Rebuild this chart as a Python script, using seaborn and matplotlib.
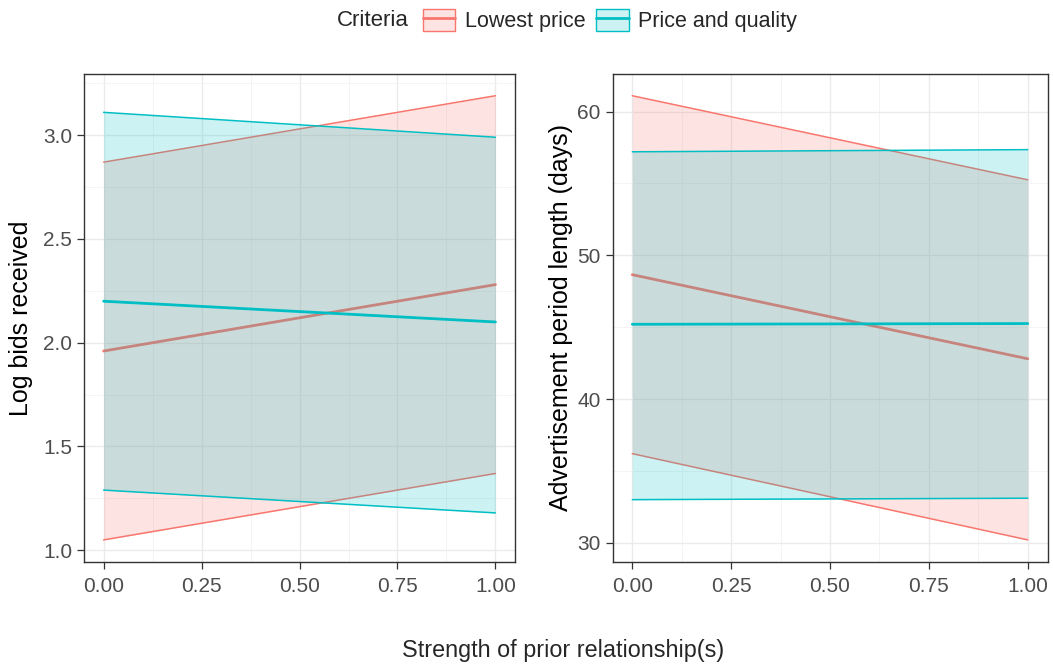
import matplotlib
matplotlib.use("Agg")
import matplotlib.pyplot as plt
import seaborn as sns
import pandas as pd
from matplotlib.patches import Patch
from matplotlib.lines import Line2D
from matplotlib.ticker import MultipleLocator, FormatStrFormatter

# values
strength = [0.0, 1.0]
criteria = ["Lowest price", "Price and quality"]

bids_fit = {"Lowest price": [1.96, 2.28], "Price and quality": [2.20, 2.10]}
bids_low = {"Lowest price": [1.05, 1.37], "Price and quality": [1.29, 1.18]}
bids_high = {"Lowest price": [2.87, 3.19], "Price and quality": [3.11, 2.99]}

adv_fit = {"Lowest price": [48.65, 42.8], "Price and quality": [45.2, 45.25]}
adv_low = {"Lowest price": [36.2, 30.2], "Price and quality": [33.0, 33.1]}
adv_high = {"Lowest price": [61.1, 55.25], "Price and quality": [57.2, 57.35]}

colors = {"Lowest price": "#F8766D", "Price and quality": "#00BFC4"}


def make_df(fit, low, high):
    rows = []
    for c in criteria:
        for i, s in enumerate(strength):
            rows.append({"strength": s, "criteria": c, "fit": fit[c][i],
                         "low": low[c][i], "high": high[c][i]})
    return pd.DataFrame(rows)


bids_df = make_df(bids_fit, bids_low, bids_high)
adv_df = make_df(adv_fit, adv_low, adv_high)

sns.set_style("whitegrid")
plt.rcParams["font.family"] = ["Liberation Sans", "DejaVu Sans"]

fig = plt.figure(figsize=(10.53, 6.66), dpi=100)
ax1 = fig.add_axes([0.0798, 0.156, 0.4093, 0.7336])
ax2 = fig.add_axes([0.5817, 0.156, 0.4131, 0.7336])


def draw_panel(ax, df, ylabel, ymajor, yminor, yfmt):
    for i, c in enumerate(criteria):
        sub = df[df["criteria"] == c]
        z = 2 + i
        ax.fill_between(sub["strength"], sub["low"], sub["high"],
                        color=colors[c], alpha=0.2, linewidth=0, zorder=z)
        sns.lineplot(data=sub, x="strength", y="low", color=colors[c],
                     linewidth=1.1, ax=ax, zorder=z + 0.1)
        sns.lineplot(data=sub, x="strength", y="high", color=colors[c],
                     linewidth=1.1, ax=ax, zorder=z + 0.1)
        sns.lineplot(data=sub, x="strength", y="fit", color=colors[c],
                     linewidth=2.0, ax=ax, zorder=z + 0.2)
    lo = df["low"].min()
    hi = df["high"].max()
    pad = (hi - lo) * 0.05
    ax.set_ylim(lo - pad, hi + pad)
    ax.set_xlim(-0.05, 1.05)
    ax.xaxis.set_major_locator(MultipleLocator(0.25))
    ax.xaxis.set_minor_locator(MultipleLocator(0.125))
    ax.yaxis.set_major_locator(MultipleLocator(ymajor))
    ax.yaxis.set_minor_locator(MultipleLocator(yminor))
    ax.xaxis.set_major_formatter(FormatStrFormatter("%.2f"))
    ax.yaxis.set_major_formatter(FormatStrFormatter(yfmt))
    ax.grid(which="major", color="#EBEBEB", linewidth=1.0, zorder=0.5)
    ax.grid(which="minor", color="#F2F2F2", linewidth=0.6, zorder=0.5)
    ax.set_axisbelow(True)
    for sp in ax.spines.values():
        sp.set_color("#333333")
        sp.set_linewidth(1.0)
    ax.tick_params(axis="both", which="major", length=5, width=0.9,
                   color="#333333", labelcolor="#4D4D4D", labelsize=15,
                   direction="out", bottom=True, left=True, pad=3.5)
    ax.tick_params(axis="x", which="major", pad=6)
    ax.tick_params(axis="both", which="minor", length=0)
    ax.set_xlabel("")
    ax.set_ylabel(ylabel, fontsize=18, color="black")


draw_panel(ax1, bids_df, "Log bids received", 0.5, 0.25, "%.1f")
draw_panel(ax2, adv_df, "Advertisement period length (days)", 10, 5, "%d")
ax1.yaxis.set_label_coords(-0.118, 0.5)
ax2.yaxis.set_label_coords(-0.091, 0.5)

fig.text(0.5345, 0.024, "Strength of prior relationship(s)", ha="center",
         va="center", fontsize=16.8)

# legend on top, title to the left of the keys
handles = []
for c in criteria:
    handles.append((Patch(facecolor=colors[c], alpha=0.2, edgecolor="none"),
                    Patch(facecolor="none", edgecolor=colors[c], linewidth=1.0),
                    Line2D([], [], color=colors[c], linewidth=2.0)))
fig.text(0.3195, 0.969, "Criteria", ha="left", va="center", fontsize=16)
fig.legend(handles, criteria, loc="center left", bbox_to_anchor=(0.4017, 0.969),
           ncol=2, frameon=False, fontsize=15.5, handlelength=1.5,
           handleheight=1.2, handletextpad=0.45, columnspacing=0.5,
           borderpad=0, borderaxespad=0)

fig.savefig("out.png", dpi=100)
